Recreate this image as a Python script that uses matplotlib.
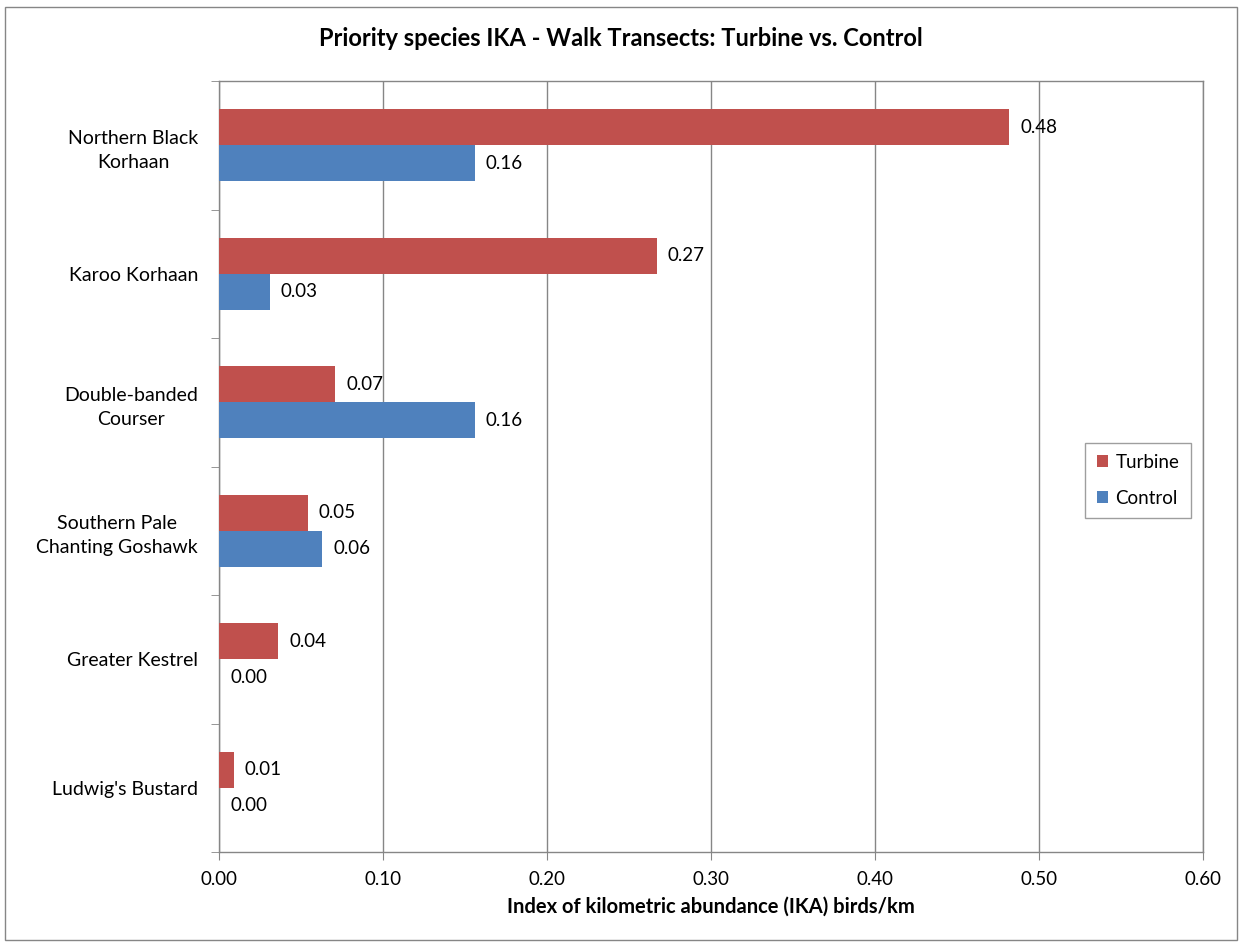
import numpy as np
import matplotlib
matplotlib.use("Agg")
import matplotlib.pyplot as plt
from matplotlib.patches import Rectangle
from matplotlib.ticker import FixedLocator

plt.rcParams['font.family'] = ['Lato', 'DejaVu Sans']

species = [
    "Northern Black\nKorhaan",
    "Karoo Korhaan",
    "Double-banded\nCourser",
    "Southern Pale\nChanting Goshawk",
    "Greater Kestrel",
    "Ludwig's Bustard",
]
turbine = [0.482, 0.267, 0.071, 0.054, 0.036, 0.009]
control = [0.156, 0.031, 0.156, 0.063, 0.000, 0.000]
x_ticks = [0.0, 0.1, 0.2, 0.3, 0.4, 0.5, 0.6]

red = "#C0504D"
blue = "#4F81BD"
grey = "#868686"

fig = plt.figure(figsize=(12.41, 9.44), dpi=100)
ax = fig.add_axes([219 / 1241, 92 / 944, 984 / 1241, 771 / 944])

# categories run top to bottom, turbine bar above control bar
n = len(species)
y = np.arange(n)[::-1].astype(float)
h = 0.28
ax.barh(y + h / 2, turbine, height=h, color=red, label="Turbine", zorder=3)
ax.barh(y - h / 2, control, height=h, color=blue, label="Control", zorder=3)

for yi, t, c in zip(y, turbine, control):
    ax.annotate(f"{t:.2f}", (t, yi + h / 2), xytext=(8, 0), textcoords="offset points",
                va="center", ha="left", fontsize=13.5)
    ax.annotate(f"{c:.2f}", (c, yi - h / 2), xytext=(8, 0), textcoords="offset points",
                va="center", ha="left", fontsize=13.5)

ax.set_xlim(0, 0.6)
ax.set_ylim(-0.5, n - 0.5)
ax.set_xticks(x_ticks)
ax.set_xticklabels([f"{v:.2f}" for v in x_ticks], fontsize=13.5)
ax.set_yticks(y)
ax.set_yticklabels(species, fontsize=14, multialignment="center", linespacing=1.5)
ax.yaxis.set_minor_locator(FixedLocator(np.arange(n + 1) - 0.5))
ax.tick_params(axis="y", which="major", length=0, pad=15)
ax.tick_params(axis="y", which="minor", length=6, color=grey, direction="out")
ax.tick_params(axis="x", which="major", length=6, color=grey, direction="out", pad=8)

ax.grid(axis="x", color=grey, linewidth=1, zorder=0)
for s in ax.spines.values():
    s.set_color(grey)
    s.set_linewidth(1)

ax.set_xlabel("Index of kilometric abundance (IKA) birds/km", fontsize=14.5,
              fontweight="bold", labelpad=6)
fig.text(0.5, 0.959, "Priority species IKA - Walk Transects: Turbine vs. Control",
         ha="center", va="center", fontsize=17, fontweight="bold")

leg = ax.legend(loc="upper left", bbox_to_anchor=(0.871, 0.543), fontsize=13.5,
                fancybox=False, handlelength=0.6, handleheight=0.6,
                handletextpad=0.4, labelspacing=1.0, borderpad=0.6)
leg.get_frame().set_edgecolor(grey)
leg.get_frame().set_linewidth(1)

fig.patches.append(Rectangle((5 / 1241, 4 / 944), 1232 / 1241, 933 / 944,
                             transform=fig.transFigure, fill=False,
                             edgecolor=grey, linewidth=1))

fig.savefig("out.png", dpi=100)
